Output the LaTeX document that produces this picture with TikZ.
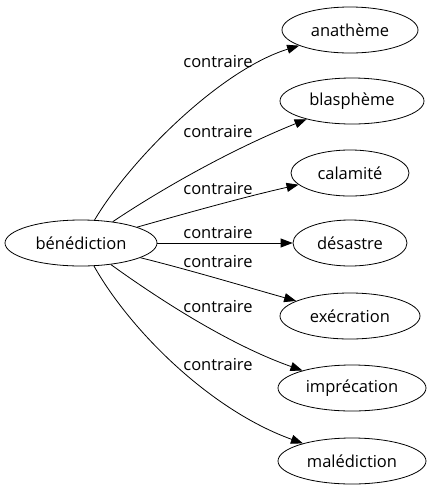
\documentclass[tikz,border=0pt]{standalone}
\usepackage{fontspec}
\setmainfont{Open Sans}
\usetikzlibrary{shapes.geometric,arrows.meta}
\begin{document}
\begin{tikzpicture}[x=1pt,y=-1pt,
  every node/.style={font=\fontsize{16.5}{19}\selectfont},
  word/.style={ellipse,draw,line width=0.8pt,inner sep=0pt,minimum height=46pt},
  rel/.style={-{Triangle[length=12pt,width=9pt]},line width=0.8pt},
  lab/.style={inner sep=0pt}]
\useasboundingbox (0,0) rectangle (432,491);
\node[word,minimum width=152pt] (b) at (81,243) {bénédiction};
\node[word,minimum width=136pt] (t1) at (350,30) {anathème};
\node[word,minimum width=144pt] (t2) at (352,101) {blasphème};
\node[word,minimum width=118pt] (t3) at (350,173) {calamité};
\node[word,minimum width=114pt] (t4) at (350,243) {désastre};
\node[word,minimum width=140pt] (t5) at (350,316) {exécration};
\node[word,minimum width=148pt] (t6) at (352,388) {imprécation};
\node[word,minimum width=148pt] (t7) at (352,461) {malédiction};
\draw[rel] (b) .. controls (130,160) and (220,70) .. (t1);
\draw[rel] (b) .. controls (160,190) and (230,150) .. (t2);
\draw[rel] (b) .. controls (180,215) and (240,198) .. (t3);
\draw[rel] (b) -- (t4);
\draw[rel] (b) .. controls (190,270) and (250,288) .. (t5);
\draw[rel] (b) .. controls (160,300) and (230,345) .. (t6);
\draw[rel] (b) .. controls (130,330) and (210,410) .. (t7);
\node[lab] (l1) at (218,62) {contraire};
\node[lab] (l2) at (218,132) {contraire};
\node[lab] (l3) at (218,189) {contraire};
\node[lab] (l4) at (218,233) {contraire};
\node[lab] (l5) at (218,262) {contraire};
\node[lab] (l6) at (218,307) {contraire};
\node[lab] (l7) at (218,365) {contraire};
\end{tikzpicture}
\end{document}
